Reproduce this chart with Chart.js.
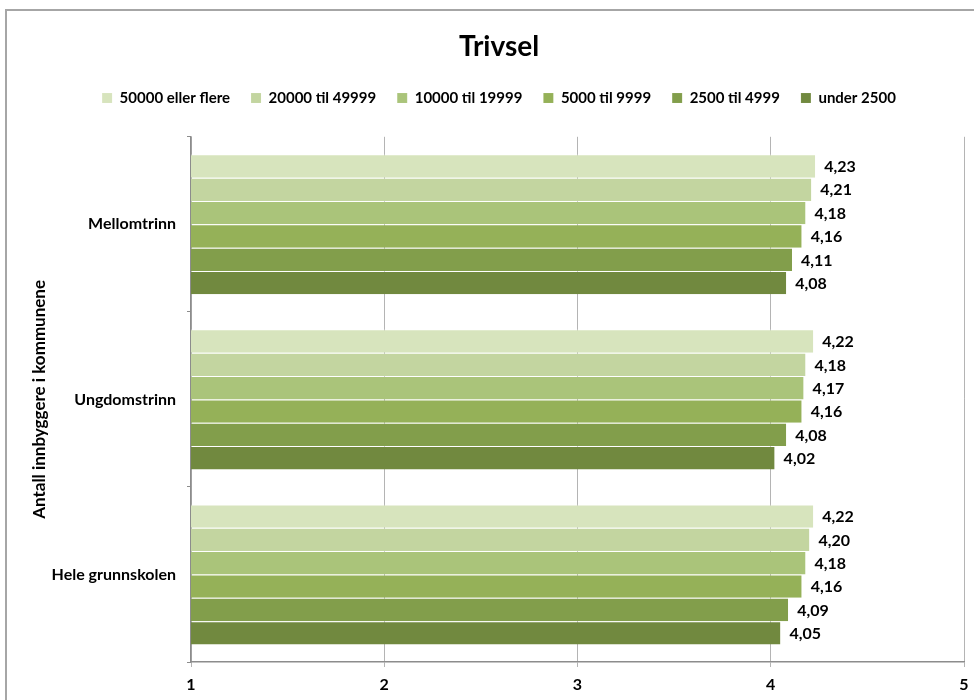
<!DOCTYPE html>
<html><head><meta charset="utf-8">
<script src="https://cdn.jsdelivr.net/npm/chart.js@4.4.0/dist/chart.umd.min.js"></script>
<style>
html,body{margin:0;padding:0;background:#fff;overflow:hidden;width:974px;height:700px;}
#frame{position:absolute;left:5px;top:9px;width:1100px;height:800px;border:2px solid #a6a6a6;box-sizing:border-box;}
#wrap{position:absolute;left:0;top:0;width:998px;height:700px;}
</style></head><body>
<div id="frame"></div>
<div id="wrap"><canvas id="c" width="998" height="700"></canvas></div>
<script>
const chartTitle = 'Trivsel';
const axisTitle = 'Antall innbyggere i kommunene';
const categories = ['Mellomtrinn', 'Ungdomstrinn', 'Hele grunnskolen'];
const seriesNames = ['50000 eller flere', '20000 til 49999', '10000 til 19999', '5000 til 9999', '2500 til 4999', 'under 2500'];
const s50000 = [4.23, 4.22, 4.22];
const s20000 = [4.21, 4.18, 4.20];
const s10000 = [4.18, 4.17, 4.18];
const s5000 = [4.16, 4.16, 4.16];
const s2500 = [4.11, 4.08, 4.09];
const sUnder2500 = [4.08, 4.02, 4.05];
const xTicks = [1, 2, 3, 4, 5];
const seriesColors = ['#D7E4BD', '#C3D5A0', '#AAC47A', '#95B158', '#829E4B', '#71893F'];
const seriesValues = [s50000, s20000, s10000, s5000, s2500, sUnder2500];

const FONT = "Lato, 'Open Sans', sans-serif";
Chart.defaults.font.family = FONT;
Chart.defaults.color = '#000';

const valueLabels = {
  id: 'valueLabels',
  afterDatasetsDraw(chart) {
    const ctx = chart.ctx;
    ctx.save();
    ctx.font = 'bold 16px ' + FONT;
    ctx.fillStyle = '#000';
    ctx.textAlign = 'left';
    ctx.textBaseline = 'middle';
    chart.data.datasets.forEach((ds, di) => {
      const meta = chart.getDatasetMeta(di);
      meta.data.forEach((bar, i) => {
        const v = ds.data[i];
        ctx.fillText(v.toFixed(2).replace('.', ','), bar.x + 9, bar.y + 1);
      });
    });
    ctx.restore();
  }
};

new Chart(document.getElementById('c'), {
  type: 'bar',
  data: {
    labels: categories,
    datasets: seriesNames.map((n, i) => ({
      label: n,
      data: seriesValues[i],
      backgroundColor: seriesColors[i],
      borderColor: 'rgba(255,255,255,0.35)',
      borderWidth: {top: 1, bottom: 0, left: 0, right: 0},
      borderSkipped: false,
      categoryPercentage: 0.8,
      barPercentage: 1.0
    }))
  },
  options: {
    indexAxis: 'y',
    responsive: false,
    animation: false,
    layout: {padding: {left: 0, right: 0, top: 0, bottom: 0}},
    plugins: {
      title: {
        display: true, text: chartTitle,
        font: {size: 28, weight: 'bold', family: FONT},
        color: '#000',
        padding: {top: 30, bottom: 6}
      },
      subtitle: {
        display: true, text: ' ', weight: 500,
        font: {size: 1},
        padding: {top: 0, bottom: 20}
      },
      legend: {
        display: true, position: 'top',
        labels: {
          boxWidth: 10, boxHeight: 10, padding: 21,
          font: {size: 15, weight: 'bold', family: FONT},
          color: '#000'
        }
      },
      tooltip: {enabled: false}
    },
    scales: {
      x: {
        min: 1, max: 5,
        afterFit(scale) { scale.height = 38; },
        afterBuildTicks(scale) { scale.ticks = xTicks.map(v => ({value: v})); },
        grid: {color: '#b4b4b4', lineWidth: 1, tickLength: 5, drawTicks: true},
        border: {color: '#8c8c8c', width: 1.5},
        ticks: {
          font: {size: 16, weight: 'bold', family: FONT},
          color: '#000', padding: 8,
          callback: v => String(v)
        }
      },
      y: {
        afterFit(scale) { scale.width = 191; },
        grid: {drawOnChartArea: false, drawTicks: true, tickLength: 4, color: '#8c8c8c', offset: true},
        border: {color: '#8c8c8c', width: 1.5},
        ticks: {
          font: {size: 16, weight: 'bold', family: FONT},
          color: '#000', padding: 11
        },
        title: {
          display: true, text: axisTitle,
          font: {size: 17, weight: 'bold', family: FONT},
          color: '#000',
          padding: {top: 29, bottom: 0}
        }
      },
      yRightSpace: {
        type: 'category', position: 'right', display: true,
        afterFit(scale) { scale.width = 34; },
        grid: {display: false, drawTicks: false},
        border: {display: false},
        ticks: {display: false}
      }
    }
  },
  plugins: [valueLabels]
});
</script>
</body></html>
